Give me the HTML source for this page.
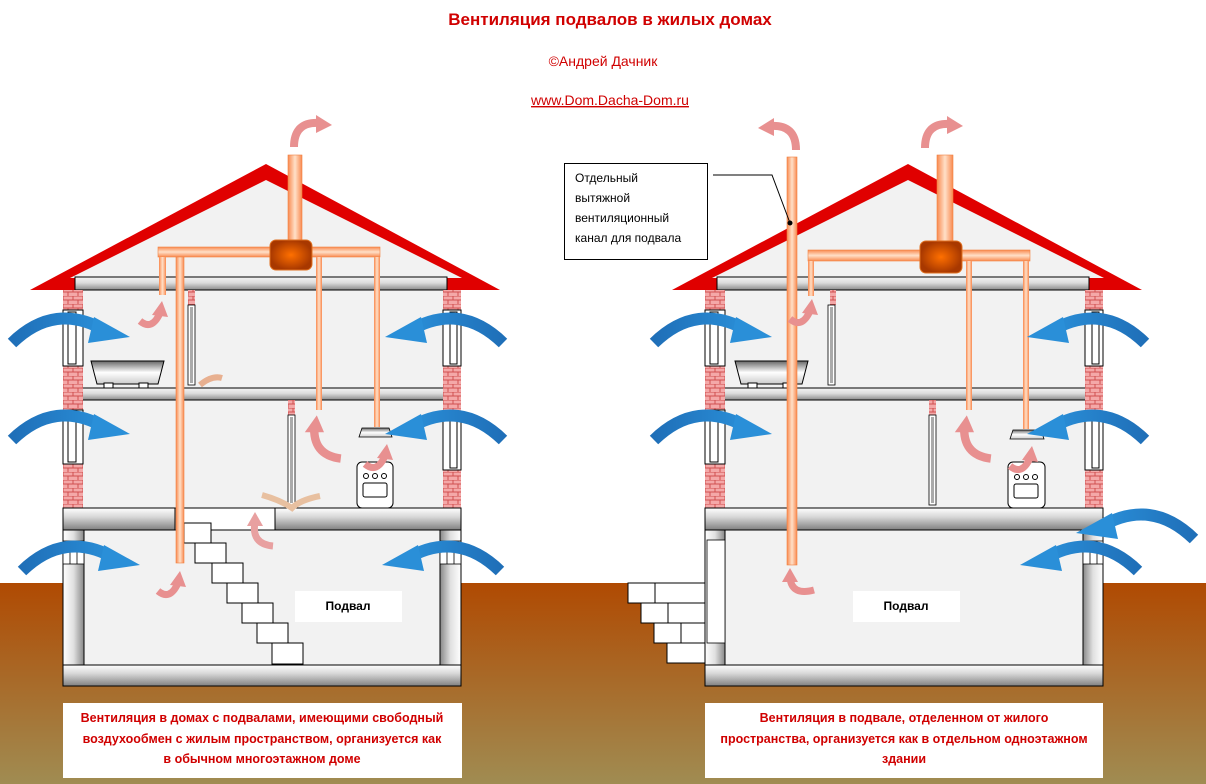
<!DOCTYPE html>
<html><head><meta charset="utf-8"><style>
html,body{margin:0;padding:0;background:#fff}
svg{display:block}
text{font-family:"Liberation Sans","DejaVu Sans",sans-serif}
</style></head><body>
<svg width="1206" height="784" viewBox="0 0 1206 784" xmlns="http://www.w3.org/2000/svg">
<defs>
<linearGradient id="gr" x1="0" y1="0" x2="0" y2="1"><stop offset="0" stop-color="#b04a02"/><stop offset="1" stop-color="#a08c52"/></linearGradient>
<linearGradient id="sl" x1="0" y1="0" x2="0" y2="1"><stop offset="0" stop-color="#f4f4f4"/><stop offset=".45" stop-color="#dcdcdc"/><stop offset="1" stop-color="#8a8a8a"/></linearGradient>
<linearGradient id="slb" x1="0" y1="0" x2="0" y2="1"><stop offset="0" stop-color="#ffffff"/><stop offset=".4" stop-color="#d8d8d8"/><stop offset="1" stop-color="#808080"/></linearGradient>
<linearGradient id="wl" x1="0" y1="0" x2="1" y2="0"><stop offset="0" stop-color="#fff"/><stop offset=".5" stop-color="#e0e0e0"/><stop offset="1" stop-color="#888"/></linearGradient>
<linearGradient id="wr" x1="1" y1="0" x2="0" y2="0"><stop offset="0" stop-color="#fff"/><stop offset=".5" stop-color="#e0e0e0"/><stop offset="1" stop-color="#888"/></linearGradient>
<linearGradient id="pp" x1="0" y1="0" x2="1" y2="0"><stop offset="0" stop-color="#f98a50"/><stop offset=".5" stop-color="#ffe0c8"/><stop offset="1" stop-color="#f98a50"/></linearGradient>
<linearGradient id="ph" x1="0" y1="0" x2="0" y2="1"><stop offset="0" stop-color="#f98a50"/><stop offset=".5" stop-color="#ffe0c8"/><stop offset="1" stop-color="#f98a50"/></linearGradient>
<radialGradient id="fan"><stop offset="0" stop-color="#ff7000"/><stop offset="1" stop-color="#a83800"/></radialGradient>
<linearGradient id="bl" x1="0" y1="0" x2="1" y2="0"><stop offset="0" stop-color="#1f6fb8"/><stop offset="1" stop-color="#2a8fd8"/></linearGradient>
<linearGradient id="bath" x1="0" y1="0" x2="0" y2="1"><stop offset="0" stop-color="#666"/><stop offset=".5" stop-color="#fff"/><stop offset="1" stop-color="#ccc"/></linearGradient>
<pattern id="brick" width="10" height="8" patternUnits="userSpaceOnUse"><rect width="10" height="8" fill="#f4a8a8"/><path d="M0 0H10M0 4H10M3 0V4M8 4V8" stroke="#d05050" stroke-width="1"/></pattern>
<g id="bA"><path d="M2,36 Q45,-6 96,24" fill="none" stroke="url(#bl)" stroke-width="12"/><polygon points="84,10 120,30 78,36" fill="#2a8fd8"/></g>
<g id="pk"><path d="M0,16 Q12,26 20,8" fill="none" stroke="#e89090" stroke-width="7"/><polygon points="12,10 22,-4 28,12" fill="#e89090"/></g>
<g id="top"><path d="M4,30 Q4,4 30,6" fill="none" stroke="#e89090" stroke-width="8"/><polygon points="26,-2 42,8 26,16" fill="#e89090"/></g>
</defs>

<rect x="0" y="583" width="1206" height="201" fill="url(#gr)"/>

<text x="610" y="25" text-anchor="middle" fill="#d00000" font-size="17" font-weight="bold">Вентиляция подвалов в жилых домах</text>
<text x="603" y="66" text-anchor="middle" fill="#d00000" font-size="14">©Андрей Дачник</text>
<text x="610" y="105" text-anchor="middle" fill="#d00000" font-size="14" text-decoration="underline">www.Dom.Dacha-Dom.ru</text>

<!-- ============ LEFT HOUSE ============ -->
<g id="house">
<polygon points="266,164 30,290 500,290" fill="#e00000"/>
<polygon points="266,180 70,278 462,278" fill="#f2f2f2"/>
<rect x="83" y="290" width="360" height="218" fill="#f2f2f2"/>
<rect x="75" y="277" width="372" height="13" fill="url(#sl)" stroke="#000" stroke-width="1"/>
<rect x="75" y="388" width="372" height="12" fill="url(#sl)" stroke="#000" stroke-width="1"/>
<rect x="63" y="290" width="20" height="218" fill="url(#brick)"/>
<rect x="443" y="290" width="18" height="218" fill="url(#brick)"/>
<g fill="#fff" stroke="#000" stroke-width="1">
<rect x="63" y="310" width="20" height="56"/><rect x="68" y="312" width="8" height="52"/>
<rect x="63" y="410" width="20" height="54"/><rect x="68" y="412" width="8" height="50"/>
<rect x="443" y="310" width="18" height="56"/><rect x="450" y="312" width="7" height="52"/>
<rect x="443" y="416" width="18" height="54"/><rect x="450" y="418" width="7" height="50"/>
</g>
</g>
<rect x="188" y="290" width="7" height="15" fill="url(#brick)"/>
<rect x="188" y="305" width="7" height="80" fill="#fff" stroke="#000" stroke-width=".8"/>
<rect x="190" y="307" width="3" height="76" fill="#aaa"/>
<rect x="288" y="400" width="7" height="15" fill="url(#brick)"/>
<rect x="288" y="415" width="7" height="90" fill="#fff" stroke="#000" stroke-width=".8"/>
<rect x="290" y="417" width="3" height="86" fill="#aaa"/>
<polygon points="91,361 164,361 158,384 97,384" fill="url(#bath)" stroke="#000"/>
<rect x="104" y="383" width="9" height="5" fill="#fff" stroke="#000"/><rect x="139" y="383" width="9" height="5" fill="#fff" stroke="#000"/>
<rect x="357" y="462" width="36" height="46" rx="5" fill="#fff" stroke="#000"/>
<circle cx="366" cy="476" r="2.5" fill="none" stroke="#000"/><circle cx="375" cy="476" r="2.5" fill="none" stroke="#000"/><circle cx="384" cy="476" r="2.5" fill="none" stroke="#000"/>
<rect x="363" y="483" width="24" height="14" rx="2" fill="none" stroke="#000"/>
<polygon points="362,428 389,428 392,437 359,437" fill="url(#bath)" stroke="#000" stroke-width=".8"/>
<rect x="63" y="508" width="112" height="22" fill="url(#slb)" stroke="#000"/>
<rect x="175" y="508" width="100" height="22" fill="#fff" stroke="#000"/>
<rect x="275" y="508" width="186" height="22" fill="url(#slb)" stroke="#000"/>
<rect x="84" y="530" width="356" height="135" fill="#f2f2f2" stroke="#000"/>
<rect x="63" y="530" width="21" height="135" fill="url(#wl)" stroke="#000"/>
<rect x="440" y="530" width="21" height="135" fill="url(#wr)" stroke="#000"/>
<rect x="63" y="665" width="398" height="21" fill="url(#slb)" stroke="#000"/>
<g fill="#fff" stroke="#000" stroke-width=".8">
<rect x="63" y="541" width="21" height="23"/><line x1="70" y1="541" x2="70" y2="564"/><line x1="77" y1="541" x2="77" y2="564"/>
<rect x="440" y="541" width="21" height="23"/><line x1="447" y1="541" x2="447" y2="564"/><line x1="454" y1="541" x2="454" y2="564"/>
</g>
<g fill="#fff" stroke="#000" stroke-width="1">
<rect x="184" y="523" width="27" height="20"/><rect x="195" y="543" width="31" height="20"/><rect x="212" y="563" width="31" height="20"/>
<rect x="227" y="583" width="31" height="20"/><rect x="242" y="603" width="31" height="20"/><rect x="257" y="623" width="31" height="20"/><rect x="272" y="643" width="31" height="21"/>
</g>
<rect x="295" y="591" width="107" height="31" fill="#fff"/>
<text x="348" y="610" text-anchor="middle" font-size="12" font-weight="bold">Подвал</text>
<rect x="288" y="155" width="14" height="90" fill="url(#pp)" stroke="#f08040" stroke-width=".6"/>
<rect x="158" y="247" width="222" height="10" fill="url(#ph)" stroke="#f08040" stroke-width=".6"/>
<rect x="159" y="257" width="7" height="38" fill="url(#pp)"/>
<rect x="176" y="257" width="8" height="306" fill="url(#pp)" stroke="#f08040" stroke-width=".6"/>
<rect x="316" y="257" width="6" height="153" fill="url(#pp)"/>
<rect x="374" y="257" width="6" height="170" fill="url(#pp)"/>
<rect x="270" y="240" width="42" height="30" rx="6" fill="url(#fan)" stroke="#e07020"/>
<use href="#top" x="290" y="117"/>
<use href="#pk" x="140" y="305"/>
<use href="#pk" x="158" y="575"/>
<g transform="translate(312,425) scale(1.2)"><path d="M2,0 Q0,25 24,28" fill="none" stroke="#e89090" stroke-width="7"/><polygon points="-6,6 4,-8 10,6" fill="#e89090"/></g>
<use href="#pk" x="365" y="448"/>
<g transform="translate(245,518)"><path d="M28,28 Q6,26 10,4" fill="none" stroke="#e8a0a0" stroke-width="7"/><polygon points="2,8 10,-6 18,8" fill="#e8a0a0"/></g>
<path d="M200,385 Q212,375 222,378" fill="none" stroke="#e8b090" stroke-width="6"/>
<path d="M262,495 Q280,500 292,508 Q300,500 320,496" fill="none" stroke="#e8c0a0" stroke-width="6"/>
<use href="#bA" x="10" y="307"/>
<use href="#bA" x="10" y="404"/>
<use href="#bA" x="20" y="535"/>
<use href="#bA" transform="translate(505,307) scale(-1,1)"/>
<use href="#bA" transform="translate(505,404) scale(-1,1)"/>
<use href="#bA" transform="translate(502,535) scale(-1,1)"/>
<rect x="63" y="703" width="399" height="75" fill="#fff"/>
<text font-size="12.5" font-weight="bold" fill="#d00000" text-anchor="middle"><tspan x="262" y="722">Вентиляция в домах с подвалами, имеющими свободный</tspan><tspan x="262" y="743">воздухообмен с жилым пространством, организуется как</tspan><tspan x="262" y="763">в обычном многоэтажном доме</tspan></text>

<!-- ============ RIGHT HOUSE ============ -->
<use href="#house" x="642"/>
<rect x="830" y="290" width="6" height="15" fill="url(#brick)"/>
<rect x="828" y="305" width="7" height="80" fill="#fff" stroke="#000" stroke-width=".8"/>
<rect x="830" y="307" width="3" height="76" fill="#aaa"/>
<rect x="929" y="400" width="7" height="15" fill="url(#brick)"/>
<rect x="929" y="415" width="7" height="90" fill="#fff" stroke="#000" stroke-width=".8"/>
<rect x="931" y="417" width="3" height="86" fill="#aaa"/>
<polygon points="735,361 808,361 802,384 741,384" fill="url(#bath)" stroke="#000"/>
<rect x="748" y="383" width="9" height="5" fill="#fff" stroke="#000"/><rect x="783" y="383" width="9" height="5" fill="#fff" stroke="#000"/>
<rect x="1008" y="462" width="37" height="46" rx="5" fill="#fff" stroke="#000"/>
<circle cx="1017" cy="477" r="2.5" fill="none" stroke="#000"/><circle cx="1026" cy="477" r="2.5" fill="none" stroke="#000"/><circle cx="1035" cy="477" r="2.5" fill="none" stroke="#000"/>
<rect x="1014" y="484" width="24" height="14" rx="2" fill="none" stroke="#000"/>
<polygon points="1013,430 1041,430 1044,439 1010,439" fill="url(#bath)" stroke="#000" stroke-width=".8"/>
<rect x="705" y="508" width="398" height="22" fill="url(#slb)" stroke="#000"/>
<rect x="725" y="530" width="358" height="135" fill="#f2f2f2" stroke="#000"/>
<rect x="705" y="530" width="20" height="135" fill="url(#wl)" stroke="#000"/>
<rect x="707" y="540" width="18" height="103" fill="#fff" stroke="#000" stroke-width=".8"/>
<rect x="1083" y="530" width="20" height="135" fill="url(#wr)" stroke="#000"/>
<rect x="705" y="665" width="398" height="21" fill="url(#slb)" stroke="#000"/>
<g fill="#fff" stroke="#000" stroke-width=".8">
<rect x="1083" y="541" width="20" height="23"/><line x1="1090" y1="541" x2="1090" y2="564"/><line x1="1097" y1="541" x2="1097" y2="564"/>
</g>
<g fill="#fff" stroke="#000" stroke-width="1">
<rect x="628" y="583" width="27" height="20"/><rect x="655" y="583" width="50" height="20"/>
<rect x="641" y="603" width="27" height="20"/><rect x="668" y="603" width="37" height="20"/>
<rect x="654" y="623" width="27" height="20"/><rect x="681" y="623" width="24" height="20"/>
<rect x="667" y="643" width="38" height="20"/>
</g>
<rect x="853" y="591" width="107" height="31" fill="#fff"/>
<text x="906" y="610" text-anchor="middle" font-size="12" font-weight="bold">Подвал</text>
<rect x="937" y="155" width="16" height="90" fill="url(#pp)" stroke="#f08040" stroke-width=".6"/>
<rect x="808" y="250" width="222" height="11" fill="url(#ph)" stroke="#f08040" stroke-width=".6"/>
<rect x="808" y="261" width="6" height="35" fill="url(#pp)"/>
<rect x="966" y="261" width="6" height="149" fill="url(#pp)"/>
<rect x="1023" y="261" width="6" height="168" fill="url(#pp)"/>
<rect x="920" y="241" width="42" height="32" rx="6" fill="url(#fan)" stroke="#e07020"/>
<rect x="787" y="157" width="10" height="408" fill="url(#pp)" stroke="#f08040" stroke-width=".6"/>
<use href="#top" x="921" y="118"/>
<g transform="translate(800,120) scale(-1,1)"><use href="#top"/></g>
<use href="#pk" x="790" y="303"/>
<g transform="translate(786,572)"><path d="M4,6 Q6,24 28,18" fill="none" stroke="#e89090" stroke-width="7"/><polygon points="-4,10 4,-4 12,10" fill="#e89090"/></g>
<g transform="translate(962,425) scale(1.2)"><path d="M2,0 Q0,25 24,28" fill="none" stroke="#e89090" stroke-width="7"/><polygon points="-6,6 4,-8 10,6" fill="#e89090"/></g>
<use href="#pk" x="1010" y="450"/>
<use href="#bA" x="652" y="307"/>
<use href="#bA" x="652" y="404"/>
<use href="#bA" transform="translate(1147,307) scale(-1,1)"/>
<use href="#bA" transform="translate(1147,404) scale(-1,1)"/>
<use href="#bA" transform="translate(1140,535) scale(-1,1)"/>
<use href="#bA" transform="translate(1196,503) scale(-1,1)"/>
<rect x="564.5" y="163.5" width="143" height="96" fill="#fff" stroke="#000"/>
<text font-size="12" fill="#000"><tspan x="575" y="182">Отдельный</tspan><tspan x="575" y="202">вытяжной</tspan><tspan x="575" y="222">вентиляционный</tspan><tspan x="575" y="242">канал для подвала</tspan></text>
<polyline points="713,175 772,175 790,223" fill="none" stroke="#000" stroke-width="1"/>
<circle cx="790" cy="223" r="2.5" fill="#000"/>
<rect x="705" y="703" width="398" height="75" fill="#fff"/>
<text font-size="12.5" font-weight="bold" fill="#d00000" text-anchor="middle"><tspan x="904" y="722">Вентиляция в подвале, отделенном от жилого</tspan><tspan x="904" y="743">пространства, организуется как в отдельном одноэтажном</tspan><tspan x="904" y="763">здании</tspan></text>
</svg>
</body></html>
